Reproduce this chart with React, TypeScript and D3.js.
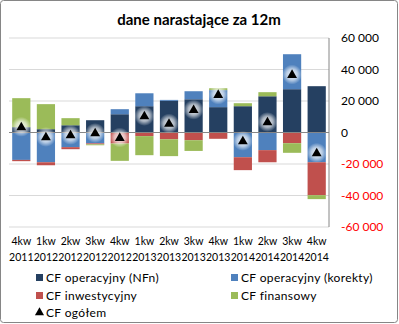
import React from "react";
import * as d3 from "d3";

const categories = [
  ["4kw", "2011"], ["1kw", "2012"], ["2kw", "2012"], ["3kw", "2012"], ["4kw", "2012"],
  ["1kw", "2013"], ["2kw", "2013"], ["3kw", "2013"], ["4kw", "2013"],
  ["1kw", "2014"], ["2kw", "2014"], ["3kw", "2014"], ["4kw", "2014"],
];
const cfNFn = [3400, 2100, 4600, 7800, 11600, 16700, 20100, 21100, 16100, 16700, 23000, 27500, 29400];
const cfKorekty = [-17400, -18900, -9300, -6900, 3200, 8200, 600, 5100, 10800, -15700, -11200, 22200, -18900];
const cfInwest = [-800, -1900, -1300, -600, -7000, -2300, -4300, -4900, -4000, -8200, -7700, -6800, -20900];
const cfFinans = [18400, 15900, 4500, -600, -11000, -12100, -10700, -6800, 1200, 1900, 2600, -6100, -2500];
const cfOgolem = [3600, -2800, -1500, -300, -3200, 10500, 5700, 14500, 24100, -5300, 6700, 36800, -12900];
const yTicks = [60000, 40000, 20000, 0, -20000, -40000, -60000];
const seriesNames = ["CF operacyjny (NFn)", "CF operacyjny (korekty)", "CF inwestycyjny", "CF finansowy"];
const seriesColors = ["#254061", "#4F81BD", "#C0504D", "#9BBB59"];
const totalName = "CF ogółem";

const FONT = "Lato, 'Open Sans', sans-serif";

export default function App() {
  const W = 399, H = 324;
  const keys = ["a", "b", "c", "d"];
  const rows = categories.map((c, i) => ({
    key: c.join(" "), a: cfNFn[i], b: cfKorekty[i], c: cfInwest[i], d: cfFinans[i],
  }));
  const x = d3.scaleBand<string>().domain(rows.map((r) => r.key)).range([9, 329]).paddingInner(0.26).paddingOuter(0.13);
  const y = d3.scaleLinear().domain([-60000, 60000]).range([227, 38]);
  const stack = d3.stack<any>().keys(keys).order(d3.stackOrderNone).offset(d3.stackOffsetDiverging);
  const stacked = stack(rows);
  const tri = d3.symbol().type(d3.symbolTriangle).size(42)();
  const triSmall = d3.symbol().type(d3.symbolTriangle).size(36)();
  const fmt = (v: number) => {
    const s = Math.abs(v).toString().replace(/\B(?=(\d{3})+(?!\d))/g, " ");
    return (v < 0 ? "-" : "") + s;
  };

  return (
    <svg width={W} height={H} style={{ display: "block", position: "absolute", left: 0, top: 0 }}>
      <defs>
        <radialGradient id="glow">
          <stop offset="0%" stopColor="#ffffff" stopOpacity={0.95} />
          <stop offset="55%" stopColor="#ffffff" stopOpacity={0.6} />
          <stop offset="100%" stopColor="#ffffff" stopOpacity={0} />
        </radialGradient>
      </defs>
      <rect x={0.5} y={0.5} width={397} height={322} rx={3} fill="#fff" stroke="#868686" />
      <text x={199} y={25} textAnchor="middle" fontFamily={FONT} fontWeight="bold" fontSize={15} fill="#000">
        dane narastające za 12m
      </text>
      {yTicks.map((t) => (
        <line key={t} x1={9} x2={329} y1={y(t)} y2={y(t)} stroke="#D9D9D9" strokeWidth={1} />
      ))}
      {stacked.map((s, si) => (
        <g key={si} fill={seriesColors[si]}>
          {s.map((d, i) => (
            <rect key={i} x={x(rows[i].key)} width={x.bandwidth()}
              y={y(Math.max(d[0], d[1]))} height={Math.abs(y(d[0]) - y(d[1]))} />
          ))}
        </g>
      ))}
      <line x1={9} x2={329} y1={y(0)} y2={y(0)} stroke="#868686" strokeWidth={1} />
      <line x1={329} x2={329} y1={y(60000)} y2={y(-60000)} stroke="#868686" strokeWidth={1} />
      {cfOgolem.map((v, i) => {
        const cx = (x(rows[i].key) as number) + x.bandwidth() / 2;
        const cy = y(v);
        return (
          <g key={i} transform={`translate(${cx},${cy})`}>
            <circle r={10} fill="url(#glow)" />
            <path d={tri as string} fill="#000" transform="translate(0,0.5)" />
          </g>
        );
      })}
      {yTicks.map((t) => (
        <text key={t} x={341} y={y(t) + 4} fontFamily={FONT} fontSize={12} fill={t < 0 ? "#FF0000" : "#000"}>
          {fmt(t)}
        </text>
      ))}
      {categories.map((c, i) => {
        const cx = (x(rows[i].key) as number) + x.bandwidth() / 2;
        return (
          <g key={i}>
            <text x={cx} y={245} textAnchor="middle" fontFamily={FONT} fontSize={10.5} fill="#000">{c[0]}</text>
            <text x={cx} y={261} textAnchor="middle" fontFamily={FONT} fontSize={10.5} fill="#000">{c[1]}</text>
          </g>
        );
      })}
      {seriesNames.map((n, i) => {
        const lx = i % 2 === 0 ? 36 : 231;
        const ly = [277.5, 295.5][Math.floor(i / 2)];
        return (
          <g key={n}>
            <rect x={lx} y={ly - 3.5} width={7} height={7} fill={seriesColors[i]} />
            <text x={lx + 10} y={ly + 4} fontFamily={FONT} fontSize={12} letterSpacing={0.35} fill="#000">{n}</text>
          </g>
        );
      })}
      <g>
        <path d={triSmall as string} fill="#000" transform="translate(39.5,312.5)" />
        <text x={46} y={316.5} fontFamily={FONT} fontSize={12} letterSpacing={0.35} fill="#000">{totalName}</text>
      </g>
    </svg>
  );
}
